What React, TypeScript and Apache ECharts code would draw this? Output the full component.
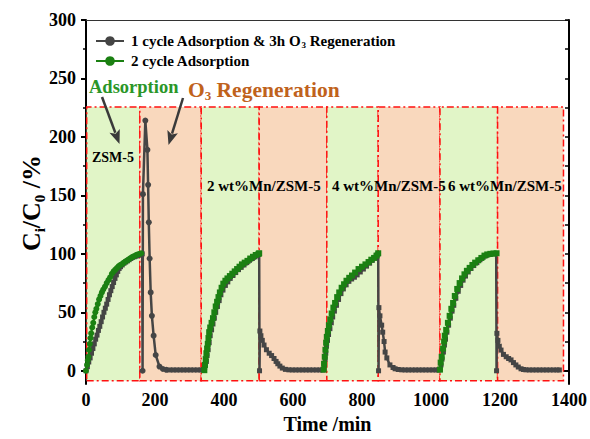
import React, { useEffect, useRef } from 'react';
import * as echarts from 'echarts';

const FONT = '"Liberation Serif", "Times New Roman", serif';

const seriesNames = ['1 cycle Adsorption & 3h O3 Regeneration', '2 cycle Adsorption'];
const yTickValues = [0, 50, 100, 150, 200, 250, 300];
const yMinorValues = [0, 25, 50, 75, 100, 125, 150, 175, 200, 225, 250, 275, 300];
const yMin = -11.4;
const yMax = 300;

// panel edges (min) and kinds
const panelEdges = [2, 156, 334, 502, 698, 847, 1026, 1193, 1384];
const panelKinds = ['ads', 'regen', 'ads', 'regen', 'ads', 'regen', 'ads', 'regen'];
const panelTop = 225.5;
const panelBottom = -8.5;
const sampleLabels = ['ZSM-5', '2 wt%Mn/ZSM-5', '4 wt%Mn/ZSM-5', '6 wt%Mn/ZSM-5'];

// 1 cycle adsorption & 3h O3 regeneration (grey)
const cycle1: [number, number][] = [
  [0, 0], [4, 3.5], [8, 7.5], [12, 11], [16, 15], [20, 19], [24, 23], [28, 27], [32, 30.5], [36, 34.5],
  [40, 38], [44, 42], [48, 46], [52, 50], [56, 53.5], [60, 57], [64, 61], [68, 65], [72, 68.5], [76, 72],
  [80, 75.5], [84, 79], [88, 82], [92, 85], [96, 87.5], [100, 89], [105, 90.5], [110, 92], [115, 93],
  [120, 94], [125, 95], [130, 96], [135, 97], [140, 97.5], [145, 98], [150, 98.5], [155, 99], [160, 99.5],
  [163, 100], [164, 0], [165, 151], [172, 214], [178, 189], [180, 159], [182, 127], [184.5, 96], [187.5, 67],
  [191, 47], [196, 30], [202, 13.5], [213, 3.6], [223, 1.5], [233, 0.8],
  [243, 0.7], [253, 0.7], [263, 0.7], [273, 0.7], [283, 0.7], [293, 0.7], [303, 0.7], [313, 0.7], [323, 0.7],
  [333, 0.7], [341, 0.7],
  [344, 3], [346, 5], [349, 8], [351, 13], [354, 18], [357, 24], [360, 30], [364, 35], [368, 40], [372, 45],
  [376, 50], [381, 55], [386, 60], [391, 65], [397, 69], [404, 73], [411, 76], [418, 79], [426, 81.5],
  [434, 84], [442, 86.5], [450, 88.5], [458, 90.5], [466, 92.5], [474, 94.5], [482, 96], [490, 97.5],
  [497, 99], [502, 100], [503, 0], [504, 34], [507, 30], [511, 26], [516, 22], [523, 18], [531, 15],
  [538, 13], [545, 10.5], [551, 8], [556, 6], [562, 4], [569, 2.3], [578, 1.2], [588, 0.8],
  [598, 0.7], [608, 0.7], [618, 0.7], [628, 0.7], [638, 0.7], [648, 0.7], [658, 0.7], [668, 0.7], [678, 0.7],
  [686, 0.7], [689, 1], [691, 5], [693, 10], [695, 15], [697, 21], [700, 26], [703, 31], [707, 36],
  [711, 41], [715, 46], [720, 51], [726, 56], [732, 61], [739, 66], [746, 70], [754, 73.5], [762, 76.5],
  [770, 78.5], [778, 80], [786, 82], [795, 84.5], [804, 87], [813, 89.5], [822, 92], [830, 94.5], [838, 97],
  [844, 99], [847, 100], [848, 0], [849, 54], [852, 47], [857, 39], [860, 33], [864, 25], [867, 16],
  [872, 11], [881, 5], [890, 2.8], [896, 1.7], [905, 1.1], [915, 0.8],
  [925, 0.7], [935, 0.7], [945, 0.7], [955, 0.7], [965, 0.7], [975, 0.7], [985, 0.7], [995, 0.7], [1005, 0.7],
  [1015, 0.7], [1022, 0.7], [1026, 1], [1029, 5], [1032, 10], [1036, 16], [1039, 22], [1042, 27], [1046, 33],
  [1051, 39], [1056, 45], [1061, 51], [1066, 56], [1072, 62], [1079, 68], [1086, 73], [1093, 77.5],
  [1100, 81], [1108, 84.5], [1116, 87.5], [1124, 90], [1133, 92.5], [1142, 95], [1151, 97], [1160, 98.5],
  [1170, 99.5], [1180, 100], [1189, 100.3], [1190, 0], [1191, 32], [1194, 26], [1198, 21], [1203, 17.7],
  [1210, 14], [1218, 12], [1225, 10.5], [1232, 9.3], [1239, 7], [1246, 5], [1253, 3.2], [1261, 1.7],
  [1268, 1.1], [1275, 0.8], [1285, 0.7], [1295, 0.7], [1305, 0.7], [1315, 0.7], [1325, 0.7], [1335, 0.7],
  [1345, 0.7], [1355, 0.7], [1365, 0.7], [1372, 0.7],
];

// 2 cycle adsorption (green), four adsorption runs
const cycle2Run1: [number, number][] = [
  [0, 0], [3, 5], [5, 9], [7, 12], [9, 18], [11, 23], [13, 28], [15, 32], [18, 37], [21, 41], [24, 46],
  [27, 50], [30, 53], [34, 57], [38, 61], [42, 64], [46, 67], [50, 69.5], [55, 72], [60, 75], [65, 77.5],
  [70, 80], [75, 83], [80, 85], [85, 86.5], [90, 88], [95, 89.5], [100, 90.5], [105, 91.5], [110, 92.5],
  [115, 93.5], [120, 94.5], [125, 95.5], [130, 96.5], [135, 97.5], [140, 98], [145, 99], [150, 99.5],
  [155, 100], [160, 100.5],
];
const cycle2Run2: [number, number][] = [
  [343, 0.5], [345, 5], [347, 10], [349, 15], [351, 19], [353, 23], [355, 28], [357, 33], [360, 37],
  [364, 41], [368, 45], [372, 50], [376, 55], [380, 59], [384, 63], [388, 67], [393, 71], [398, 74.5],
  [404, 77], [410, 79], [417, 81], [424, 83], [431, 85], [438, 87], [445, 89], [452, 91], [460, 92.5],
  [468, 94], [476, 96], [484, 97.5], [492, 99], [500, 100], [502, 100.5],
];
const cycle2Run3: [number, number][] = [
  [689, 1], [690, 6], [692, 12], [694, 18], [696, 24], [698, 29], [701, 34], [704, 39], [708, 44],
  [712, 49], [717, 54], [722, 58], [728, 63], [734, 67], [741, 71], [748, 74], [755, 77], [763, 79.5],
  [771, 81.5], [780, 84], [790, 87], [800, 89], [810, 91], [819, 93], [827, 95], [835, 96.5], [842, 98.5],
  [847, 100.5],
];
const cycle2Run4: [number, number][] = [
  [1026, 1], [1028, 7], [1031, 12], [1035, 19], [1038, 25], [1040, 30], [1044, 35], [1049, 41],
  [1054, 47], [1059, 53], [1064, 58], [1069, 64], [1076, 70], [1083, 75], [1090, 79], [1097, 82.5],
  [1104, 85.5], [1112, 88], [1120, 90.5], [1128, 92.5], [1137, 94.5], [1146, 96.5], [1155, 98.5],
  [1163, 99.5], [1172, 100], [1181, 100.3], [1190, 100.5],
];

const GREY = '#454545';
const GREEN = '#1b8012';
const PANEL_GREEN = '#e1f5c7';
const PANEL_ORANGE = '#f9d8bd';

function arrow(x1: number, y1: number, x2: number, y2: number) {
  const dx = x2 - x1;
  const dy = y2 - y1;
  const len = Math.sqrt(dx * dx + dy * dy);
  const ux = dx / len;
  const uy = dy / len;
  const hl = 14;
  const hw = 5.5;
  const bx = x2 - ux * hl;
  const by = y2 - uy * hl;
  return [
    {
      type: 'line', z: 100,
      shape: { x1, y1, x2: bx + ux * 2, y2: by + uy * 2 },
      style: { stroke: '#3a3a3a', lineWidth: 2.5 },
    },
    {
      type: 'polygon', z: 100,
      shape: { points: [[x2, y2], [bx - uy * hw, by + ux * hw], [bx + ux * 3, by + uy * 3], [bx + uy * hw, by - ux * hw]] },
      style: { fill: '#3a3a3a' },
    },
  ];
}

function txt(x: number, y: number, text: string, size: number, color: string) {
  return {
    type: 'text', z: 100, x, y,
    style: {
      text,
      fill: color,
      fontFamily: FONT,
      fontWeight: 'bold',
      fontSize: size,
      align: 'left',
      textAlign: 'left',
      verticalAlign: 'middle',
      textVerticalAlign: 'middle',
    },
  };
}

// rich styles with a subscript token
function subRich(size: number, subSize: number, color: string, pad: number) {
  return {
    a: { fontFamily: FONT, fontWeight: 'bold', fontSize: size, color, fill: color, lineHeight: size + 1, verticalAlign: 'top' },
    s: { fontFamily: FONT, fontWeight: 'bold', fontSize: subSize, color, fill: color, lineHeight: subSize + 1, padding: [pad, 0, 0, 0], verticalAlign: 'top' },
  };
}

export default function App() {
  const ref = useRef<HTMLDivElement>(null);
  useEffect(() => {
    const chart = echarts.init(ref.current!, null, { renderer: 'svg' });

    const markAreaData = panelKinds.map((k, i) => [
      { xAxis: panelEdges[i], yAxis: panelBottom, itemStyle: { color: k === 'ads' ? PANEL_GREEN : PANEL_ORANGE } },
      { xAxis: panelEdges[i + 1], yAxis: panelTop },
    ]);

    const greyData = cycle1.map(([t, v]) => ({
      value: [t, v],
      symbol: t >= 164 && t <= 233 ? 'circle' : 'rect',
      symbolSize: t >= 164 && t <= 233 ? 6 : 5,
    }));
    const greenRun = (run: [number, number][], round: boolean) =>
      run.map(([t, v]) => ({ value: [t, v], symbol: round ? 'circle' : 'rect', symbolSize: 6 }));

    const greenSeries = [cycle2Run1, cycle2Run2, cycle2Run3, cycle2Run4].map((run, i) => ({
      name: seriesNames[1],
      type: 'line',
      xAxisIndex: 0,
      yAxisIndex: 0,
      z: 5,
      symbol: 'circle',
      symbolSize: 6,
      itemStyle: { color: GREEN },
      lineStyle: { color: GREEN, width: 2 },
      data: greenRun(run, i === 0),
    }));

    const option: any = {
      animation: false,
      backgroundColor: '#ffffff',
      grid: { left: 86, right: 18, top: 20, bottom: 50, show: false },
      legend: {
        orient: 'vertical',
        left: 95,
        top: 33,
        padding: 0,
        itemWidth: 28,
        itemHeight: 12,
        itemGap: 4,
        data: seriesNames,
        formatter: (name: string) =>
          name === seriesNames[0] ? '{a|1 cycle Adsorption & 3h O}{s|3}{a| Regeneration}' : '{a|' + name + '}',
        textStyle: { fontFamily: FONT, fontWeight: 'bold', fontSize: 15, color: '#000', padding: [0, 0, 0, 2], rich: subRich(15, 9, '#000', 7) },
      },
      xAxis: [
        {
          type: 'value', min: 0, max: 1400, interval: 200, position: 'bottom',
          name: 'Time /min', nameLocation: 'middle', nameGap: 29,
          nameTextStyle: { fontFamily: FONT, fontWeight: 'bold', fontSize: 20, color: '#000' },
          axisLine: { show: true, lineStyle: { color: '#000', width: 2 } },
          axisTick: { show: true, inside: false, length: 5, lineStyle: { color: '#000', width: 2 } },
          minorTick: { show: true, splitNumber: 2, length: 3, lineStyle: { color: '#000', width: 1.5 } },
          axisLabel: { fontFamily: FONT, fontWeight: 'bold', fontSize: 18, color: '#000', margin: 7, formatter: (v: number) => String(v) },
          splitLine: { show: false }, minorSplitLine: { show: false },
        },
        {
          type: 'value', min: 0, max: 1400, position: 'top',
          axisLine: { show: true, onZero: false, lineStyle: { color: '#333', width: 1 } },
          axisTick: { show: false }, axisLabel: { show: false }, splitLine: { show: false },
        },
      ],
      yAxis: [
        {
          type: 'value', min: yMin, max: yMax, position: 'left',
          axisLine: { show: true, onZero: false, lineStyle: { color: '#000', width: 2 } },
          axisTick: { show: true, inside: false, length: 5, customValues: yTickValues, lineStyle: { color: '#000', width: 2 } },
          axisLabel: { customValues: yTickValues, fontFamily: FONT, fontWeight: 'bold', fontSize: 18, color: '#000', margin: 10, formatter: (v: number) => String(v) },
          splitLine: { show: false },
        },
        {
          type: 'value', min: yMin, max: yMax, position: 'left',
          axisLine: { show: false, onZero: false },
          axisTick: { show: true, inside: false, length: 3, customValues: yMinorValues, lineStyle: { color: '#000', width: 1.5 } },
          axisLabel: { show: false }, splitLine: { show: false },
        },
        {
          type: 'value', min: yMin, max: yMax, position: 'right',
          axisLine: { show: true, onZero: false, lineStyle: { color: '#000', width: 2 } },
          axisTick: { show: true, inside: true, length: 4, customValues: yMinorValues, lineStyle: { color: '#000', width: 1.5 } },
          axisLabel: { show: false }, splitLine: { show: false },
        },
      ],
      series: [
        {
          name: 'panels',
          type: 'line',
          xAxisIndex: 0,
          yAxisIndex: 0,
          z: 1,
          silent: true,
          data: [],
          markArea: {
            silent: true,
            itemStyle: { borderColor: '#ff1010', borderWidth: 1.5, borderType: [7, 3, 2, 3] },
            data: markAreaData,
          },
        },
        {
          name: seriesNames[0],
          type: 'line',
          xAxisIndex: 0,
          yAxisIndex: 0,
          z: 4,
          symbol: 'circle',
          symbolSize: 5,
          itemStyle: { color: GREY },
          lineStyle: { color: GREY, width: 2.5 },
          data: greyData,
        },
        ...greenSeries,
      ],
      graphic: [
        {
          type: 'text', z: 100, x: 32, y: 203, rotation: Math.PI / 2,
          style: {
            text: '{a|C}{s|i}{a|/C}{s|0}{a| /%}',
            align: 'center', textAlign: 'center', verticalAlign: 'middle', textVerticalAlign: 'middle',
            rich: subRich(26, 15, '#000', 14),
          },
        },
        txt(89, 87, 'Adsorption', 18.5, '#2a9628'),
        {
          type: 'text', z: 100, x: 188, y: 90,
          style: {
            text: '{a|O}{s|3}{a| Regeneration}',
            align: 'left', textAlign: 'left', verticalAlign: 'middle', textVerticalAlign: 'middle',
            rich: subRich(21.5, 13, '#c0621c', 10),
          },
        },
        ...arrow(102, 97, 119.5, 144),
        ...arrow(183, 98, 168.5, 145),
        txt(92, 157, sampleLabels[0], 14, '#000'),
        txt(207, 186, sampleLabels[1], 15, '#000'),
        txt(332, 186, sampleLabels[2], 15, '#000'),
        txt(448, 186, sampleLabels[3], 15, '#000'),
      ],
    };
    chart.setOption(option);
    return () => chart.dispose();
  }, []);
  return <div ref={ref} style={{ position: 'fixed', left: 0, top: 0, width: 590, height: 439 }} />;
}
